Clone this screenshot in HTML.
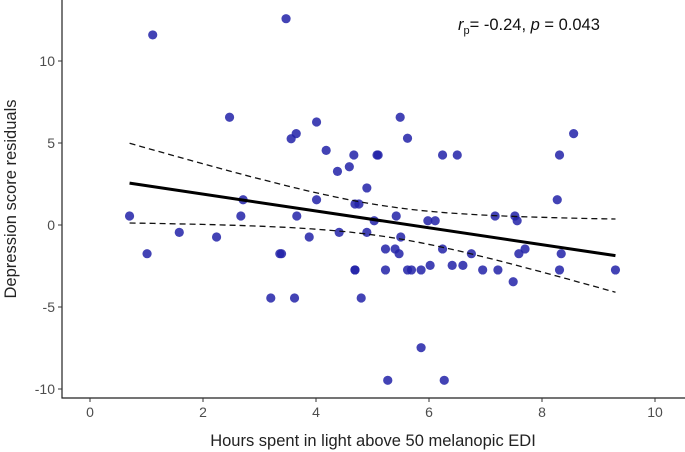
<!DOCTYPE html>
<html><head><meta charset="utf-8"><style>
html,body{margin:0;padding:0;background:#fff}
svg{display:block;font-family:"Liberation Sans",Arial,sans-serif}
</style></head><body>
<svg id="chart" width="685" height="452" viewBox="0 0 685 452"></svg>
<script>
const xTicks=[0,2,4,6,8,10];
const yTicks=[-10,-5,0,5,10];
const xVals=[1.11,3.47,2.47,4.01,3.65,3.56,4.18,4.67,5.08,4.59,4.38,4.90,2.71,4.01,4.69,4.76,0.70,2.67,3.66,5.03,1.58,2.24,3.88,4.41,4.90,1.01,3.36,3.39,4.69,4.69,3.20,3.62,4.80,5.49,5.62,5.10,6.24,6.50,8.31,8.56,8.27,5.42,7.17,7.52,7.56,5.98,6.11,5.50,5.23,5.40,5.47,6.24,6.75,7.70,7.59,8.34,5.23,5.62,5.69,5.86,6.02,6.41,6.60,6.95,7.22,7.49,8.31,9.30,5.86,5.27,6.27];
const yVals=[11.59,12.58,6.57,6.28,5.57,5.26,4.55,4.27,4.27,3.55,3.27,2.26,1.54,1.54,1.28,1.28,0.55,0.55,0.55,0.26,-0.45,-0.73,-0.73,-0.45,-0.45,-1.75,-1.75,-1.75,-2.74,-2.74,-4.45,-4.45,-4.45,6.57,5.29,4.27,4.27,4.27,4.27,5.57,1.54,0.55,0.55,0.55,0.26,0.26,0.26,-0.73,-1.46,-1.46,-1.75,-1.46,-1.75,-1.46,-1.75,-1.75,-2.74,-2.74,-2.74,-2.74,-2.46,-2.46,-2.46,-2.74,-2.74,-3.46,-2.74,-2.74,-7.48,-9.47,-9.47];
const annotation={r:"-0.24",p:"0.043"};

const NS="http://www.w3.org/2000/svg";
const svg=document.getElementById('chart');
const X=v=>90+v*56.5;
const Y=v=>225-v*16.4;
function mk(tag,attrs,parent){const e=document.createElementNS(NS,tag);for(const k in attrs)e.setAttribute(k,attrs[k]);(parent||svg).appendChild(e);return e;}

// axes
let ax=mk('line',{x1:62,y1:0,x2:62,y2:398.5,stroke:'#222','stroke-width':1.2});


let bx=mk('line',{x1:61.5,y1:398,x2:685,y2:398,stroke:'#222','stroke-width':1.2});



xTicks.forEach(t=>{
  const tk=mk('line',{x1:X(t),y1:398,x2:X(t),y2:402,stroke:'#333','stroke-width':1});
  
  
  const lb=mk('text',{x:X(t),y:417,'text-anchor':'middle','font-size':14,fill:'#4d4d4d'});
  lb.textContent=t;
  
  
});
yTicks.forEach(t=>{
  const tk=mk('line',{x1:58,y1:Y(t),x2:62,y2:Y(t),stroke:'#333','stroke-width':1});
  
  
  const lb=mk('text',{x:55,y:Y(t)+5,'text-anchor':'end','font-size':14,fill:'#4d4d4d'});
  lb.textContent=t;
  
  
});

// points
xVals.forEach((xv,i)=>{
  const c=mk('circle',{cx:X(xv),cy:Y(yVals[i]),r:4.6,fill:'#2222a8','fill-opacity':0.85});
  
  
});

// regression + CI
const n=xVals.length;
const mx=xVals.reduce((a,b)=>a+b,0)/n, my=yVals.reduce((a,b)=>a+b,0)/n;
let sxx=0,sxy=0;xVals.forEach((x,i)=>{sxx+=(x-mx)**2;sxy+=(x-mx)*(yVals[i]-my);});
const b=sxy/sxx,a=my-b*mx;
let sse=0;xVals.forEach((x,i)=>{sse+=(yVals[i]-a-b*x)**2;});
const s=Math.sqrt(sse/(n-2)), t=1.995;
const x0=Math.min(...xVals),x1=Math.max(...xVals);
const up=[],lo=[];
for(let k=0;k<=40;k++){const x=x0+(x1-x0)*k/40;const f=a+b*x;const h=t*s*Math.sqrt(1/n+(x-mx)**2/sxx);up.push(X(x).toFixed(1)+','+Y(f+h).toFixed(1));lo.push(X(x).toFixed(1)+','+Y(f-h).toFixed(1));}
const cu=mk('polyline',{points:up.join(' '),fill:'none',stroke:'#111','stroke-width':1.3,'stroke-dasharray':'6,4'});


const cl=mk('polyline',{points:lo.join(' '),fill:'none',stroke:'#111','stroke-width':1.3,'stroke-dasharray':'6,4'});


const rl=mk('line',{x1:X(x0),y1:Y(a+b*x0),x2:X(x1),y2:Y(a+b*x1),stroke:'#000','stroke-width':3});



// labels
const xl=mk('text',{x:373,y:446,'text-anchor':'middle','font-size':16.5,fill:'#222'});
xl.textContent='Hours spent in light above 50 melanopic EDI';


const yl=mk('text',{x:0,y:0,'text-anchor':'middle','font-size':16.5,fill:'#222',transform:'translate(16,199) rotate(-90)'});
yl.textContent='Depression score residuals';



const an=mk('text',{x:458,y:30,'font-size':16.5,fill:'#111'});


an.innerHTML='<tspan font-style="italic">r</tspan><tspan font-size="11" dy="4">p</tspan><tspan dy="-4">= '+annotation.r+', </tspan><tspan font-style="italic">p</tspan><tspan> = '+annotation.p+'</tspan>';
</script>
</body></html>
